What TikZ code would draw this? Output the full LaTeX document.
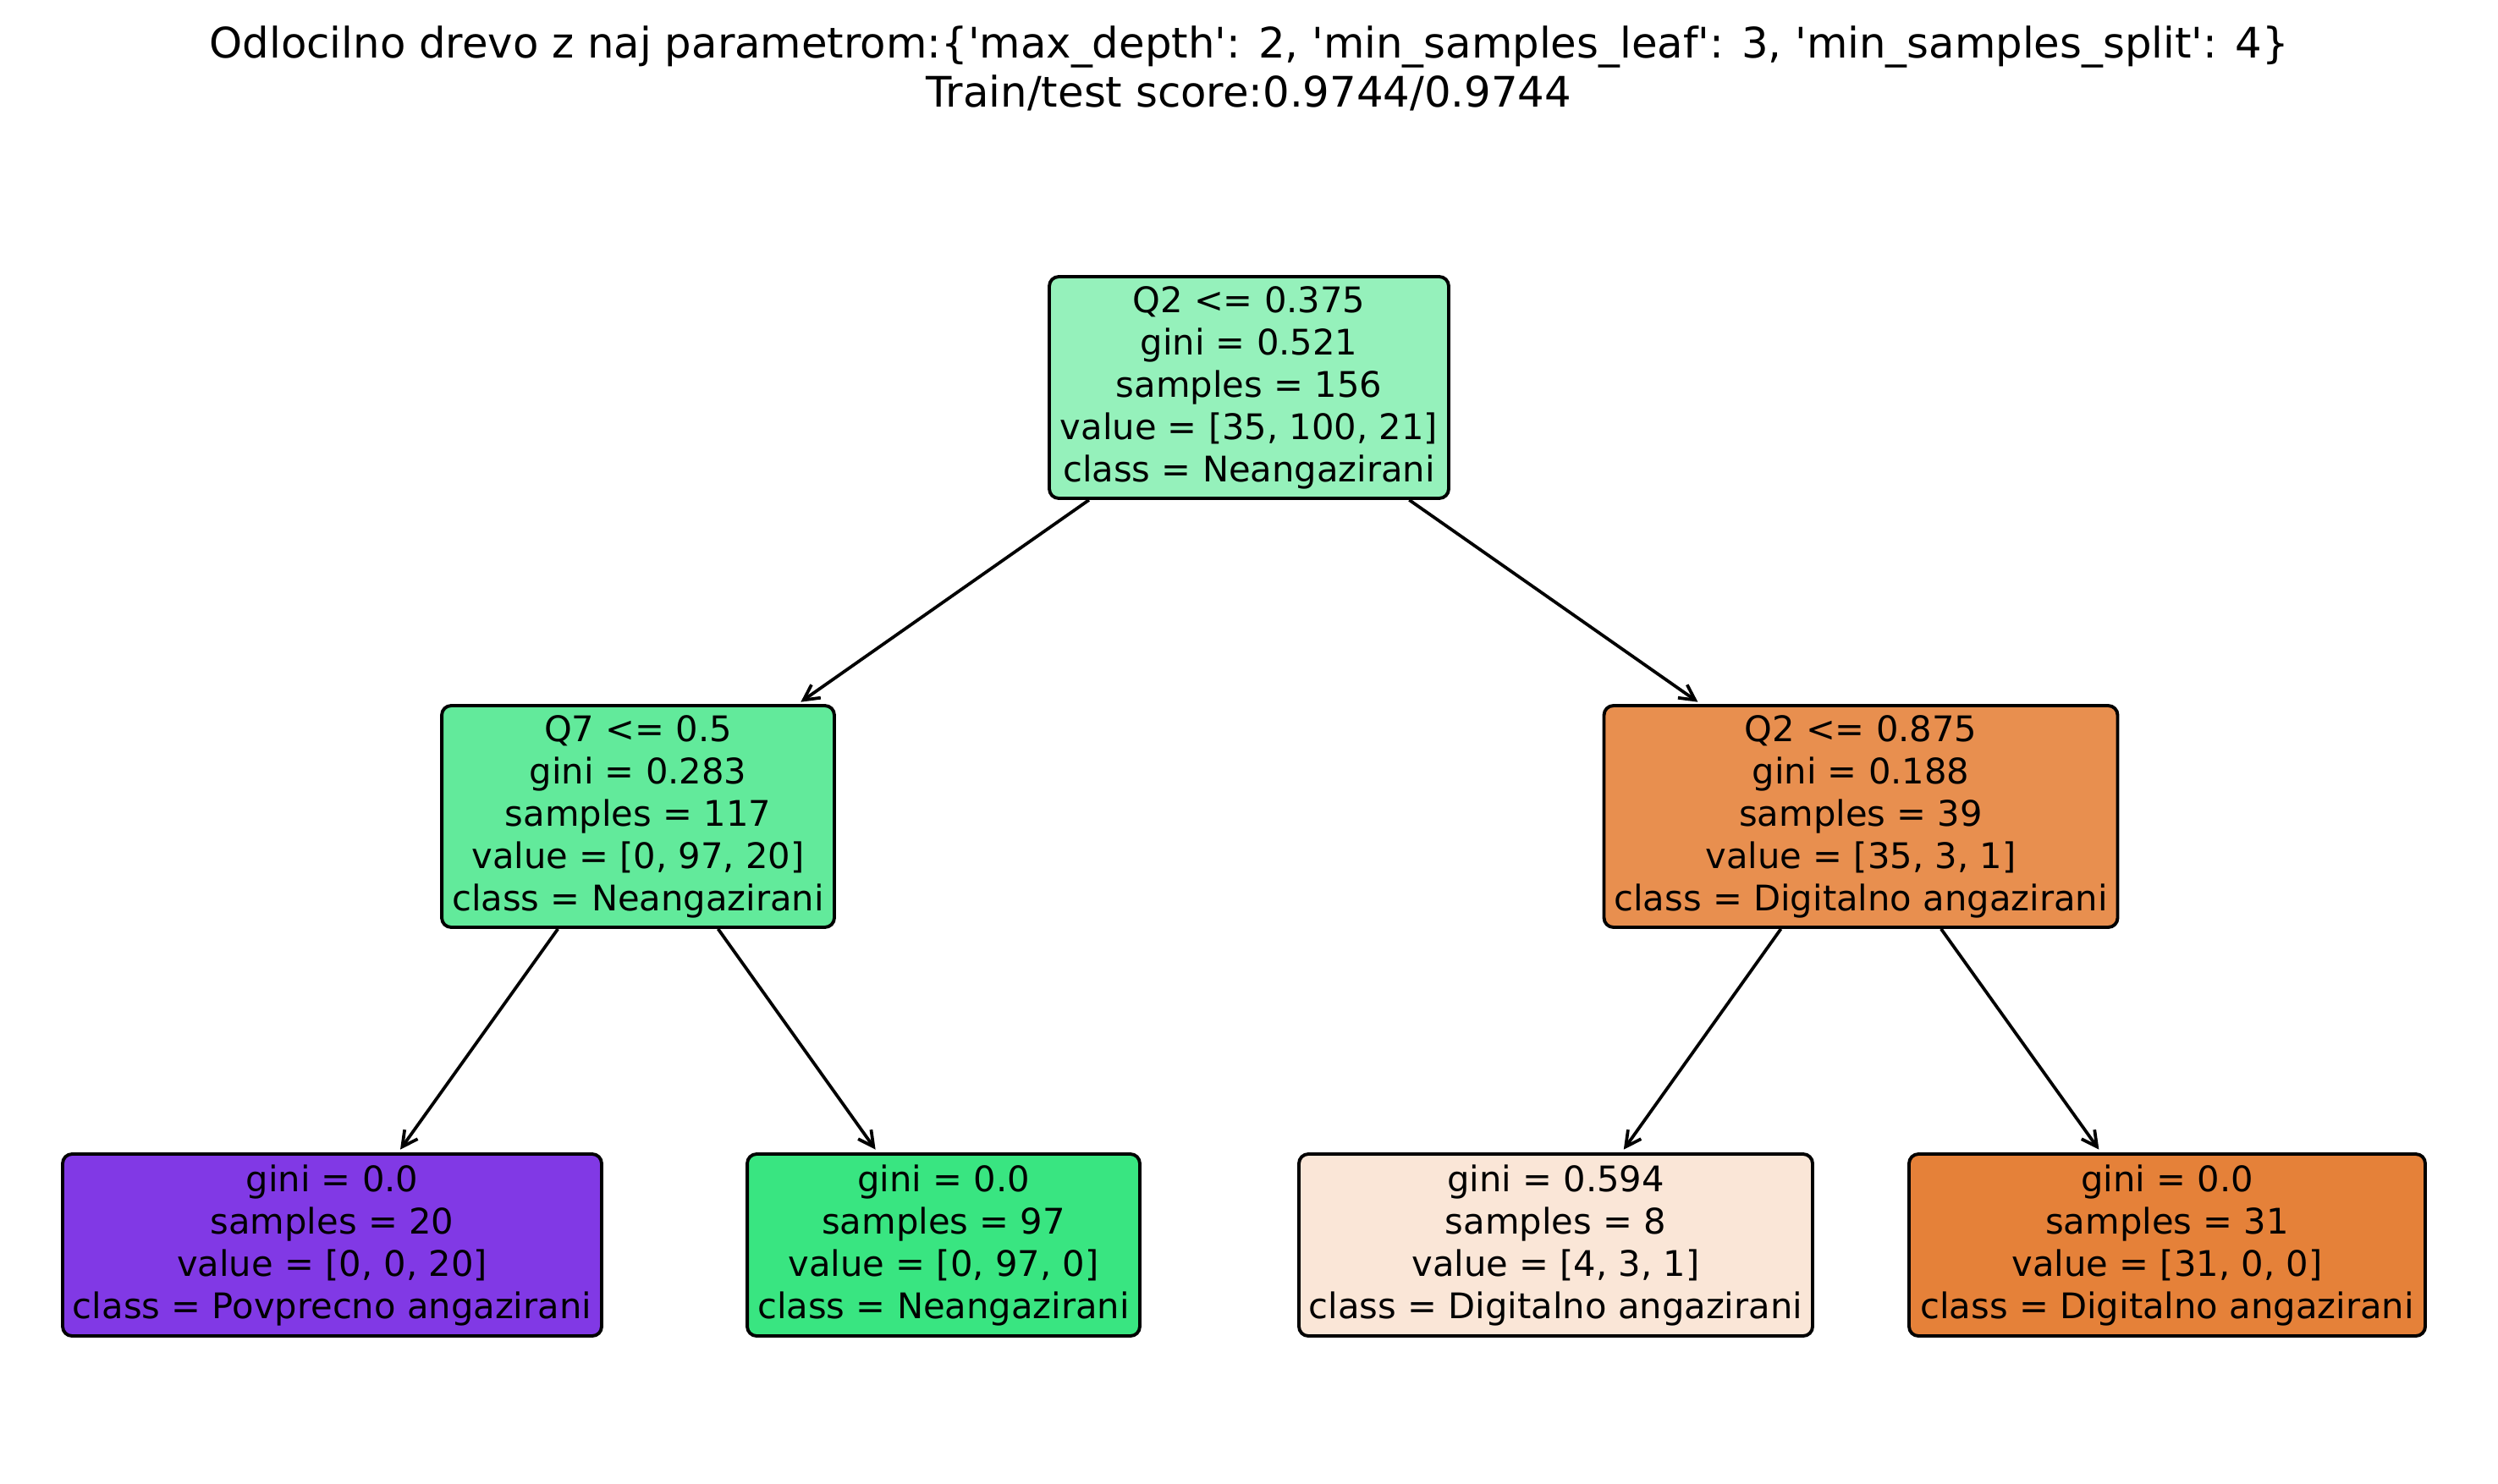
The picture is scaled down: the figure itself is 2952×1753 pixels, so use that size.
\documentclass[tikz,border=0pt]{standalone}
\usepackage{fontspec}
\setmainfont{DejaVu Sans}[Ligatures=TeXOff]
\usetikzlibrary{arrows.meta}
\definecolor{cRoot}{RGB}{149,241,187}
\definecolor{cQseven}{RGB}{98,234,155}
\definecolor{cQtwoR}{RGB}{232,143,79}
\definecolor{cPurple}{RGB}{129,57,229}
\definecolor{cGreen}{RGB}{57,229,129}
\definecolor{cPale}{RGB}{250,230,215}
\definecolor{cOrange}{RGB}{229,129,57}
\tikzset{
  treebox/.style={draw=black, line width=1.4bp, rounded corners=4bp, align=center,
    inner sep=0pt, font=\fontsize{15bp}{18bp}\selectfont},
  innerbox/.style={treebox, minimum height=94.3bp},
  leafbox/.style={treebox, minimum height=77.4bp},
  edge/.style={line width=1.35bp, -{Straight Barb[length=6.5bp,width=6.8bp,line width=1.35bp]}, shorten >=1.5bp},
  titletext/.style={align=center, font=\fontsize{17.9bp}{20.8bp}\selectfont}
}
\begin{document}
\begin{tikzpicture}[x=0.36bp, y=-0.36bp]
\fill[white] (0,0) rectangle (2952,1753);
\useasboundingbox (0,0) rectangle (2952,1753);
\node[titletext] (title) at (1476,81) {Odlocilno drevo z naj parametrom:\{'max\_depth': 2, 'min\_samples\_leaf': 3, 'min\_samples\_split': 4\}\\Train/test score:0.9744/0.9744};
\node[innerbox, fill=cRoot, minimum width=169.9bp] (root) at (1476,458) {Q2 <= 0.375\\gini = 0.521\\samples = 156\\value = [35, 100, 21]\\class = Neangazirani};
\node[innerbox, fill=cQseven, minimum width=167bp] (q7) at (754,965) {Q7 <= 0.5\\gini = 0.283\\samples = 117\\value = [0, 97, 20]\\class = Neangazirani};
\node[innerbox, fill=cQtwoR, minimum width=218.5bp] (q2r) at (2199,965) {Q2 <= 0.875\\gini = 0.188\\samples = 39\\value = [35, 3, 1]\\class = Digitalno angazirani};
\node[leafbox, fill=cPurple, minimum width=229.3bp] (l1) at (392.5,1471.5) {gini = 0.0\\samples = 20\\value = [0, 0, 20]\\class = Povprecno angazirani};
\node[leafbox, fill=cGreen, minimum width=167bp] (l2) at (1115,1471.5) {gini = 0.0\\samples = 97\\value = [0, 97, 0]\\class = Neangazirani};
\node[leafbox, fill=cPale, minimum width=218.5bp] (l3) at (1838.5,1471.5) {gini = 0.594\\samples = 8\\value = [4, 3, 1]\\class = Digitalno angazirani};
\node[leafbox, fill=cOrange, minimum width=219.6bp] (l4) at (2561,1471.5) {gini = 0.0\\samples = 31\\value = [31, 0, 0]\\class = Digitalno angazirani};
\draw[edge] (root) -- (q7);
\draw[edge] (root) -- (q2r);
\draw[edge] (q7) -- (l1);
\draw[edge] (q7) -- (l2);
\draw[edge] (q2r) -- (l3);
\draw[edge] (q2r) -- (l4);
\end{tikzpicture}
\end{document}
